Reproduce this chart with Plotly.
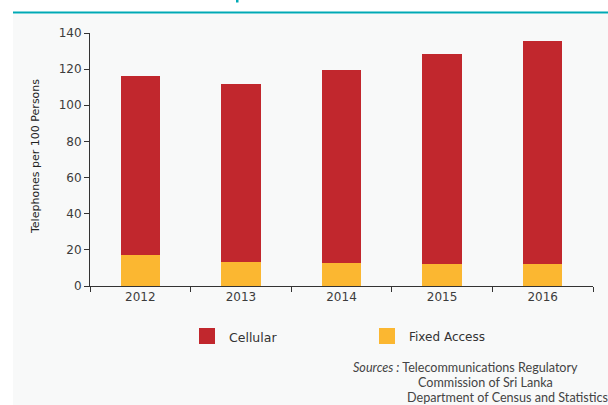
import plotly.graph_objects as go

years = ["2012", "2013", "2014", "2015", "2016"]
fixed_access = [17.0, 13.1, 12.9, 12.2, 12.0]
cellular = [99.2, 98.5, 106.5, 116.2, 123.6]
y_ticks = [0, 20, 40, 60, 80, 100, 120, 140]

W, H = 608, 405
RED = "#c1272d"
YEL = "#fbb731"
TEAL = "#00a9b5"
PANEL = "#f8f9f9"
FONT = "'DejaVu Sans', sans-serif"
SRC_FONT = "Lato, 'Open Sans', sans-serif"

fig = go.Figure()
fig.add_bar(x=years, y=fixed_access, name="Fixed Access", marker_color=YEL,
            marker_line_width=0, showlegend=False)
fig.add_bar(x=years, y=cellular, name="Cellular", marker_color=RED,
            marker_line_width=0, showlegend=False)

def px_x(x):
    return x / W

def px_y(y):
    return 1 - y / H

fig.update_layout(
    width=W, height=H,
    margin=dict(l=0, r=0, t=0, b=0, pad=0),
    paper_bgcolor="white",
    plot_bgcolor="rgba(0,0,0,0)",
    barmode="stack",
    bargap=0.61,
    font=dict(family=FONT, size=12, color="#333333"),
    xaxis=dict(
        domain=[px_x(90), px_x(593)],
        showline=True, linecolor="#333333", linewidth=1,
        ticks="outside", ticklen=5, tickcolor="#333333",
        tickson="boundaries", showgrid=False, automargin=False,
        tickfont=dict(size=12, color="#3c3c3c"),
    ),
    yaxis=dict(
        domain=[px_y(286), px_y(33)],
        range=[0, 140], tickvals=y_ticks,
        showline=True, linecolor="#333333", linewidth=1,
        ticks="outside", ticklen=5, tickcolor="#333333",
        showgrid=False, zeroline=False, automargin=False,
        tickfont=dict(size=12, color="#3c3c3c"),
    ),
    shapes=[
        dict(type="rect", xref="paper", yref="paper",
             x0=px_x(13), x1=1, y0=0, y1=px_y(14),
             fillcolor=PANEL, line_width=0, layer="below"),
        dict(type="line", xref="paper", yref="paper",
             x0=px_x(13), x1=1, y0=px_y(12.5), y1=px_y(12.5),
             line=dict(color=TEAL, width=2)),
        dict(type="rect", xref="paper", yref="paper",
             x0=px_x(236), x1=px_x(238.5), y0=px_y(2.5), y1=1,
             fillcolor=TEAL, line_width=0),
        dict(type="rect", xref="paper", yref="paper",
             x0=px_x(199), x1=px_x(215), y0=px_y(344), y1=px_y(328),
             fillcolor=RED, line_width=0),
        dict(type="rect", xref="paper", yref="paper",
             x0=px_x(379), x1=px_x(395), y0=px_y(344), y1=px_y(328),
             fillcolor=YEL, line_width=0),
    ],
    annotations=[
        dict(text="Telephones per 100 Persons", textangle=-90,
             xref="paper", yref="paper", x=px_x(35), y=px_y(157),
             xanchor="center", yanchor="middle", showarrow=False,
             font=dict(size=11, color="#222222", family=FONT)),
        dict(text="Cellular", xref="paper", yref="paper",
             x=px_x(227), y=px_y(337), xanchor="left", yanchor="middle",
             showarrow=False, font=dict(size=12.5, color="#333333")),
        dict(text="Fixed Access", xref="paper", yref="paper",
             x=px_x(407), y=px_y(337), xanchor="left", yanchor="middle",
             showarrow=False, font=dict(size=12, color="#333333")),
        dict(text="<i>Sources :</i> Telecommunications Regulatory", xref="paper", yref="paper",
             x=px_x(351), y=px_y(367), xanchor="left", yanchor="middle",
             showarrow=False, font=dict(size=12.6, color="#444444", family=SRC_FONT)),
        dict(text="Commission of Sri Lanka", xref="paper", yref="paper",
             x=px_x(416), y=px_y(382), xanchor="left", yanchor="middle",
             showarrow=False, font=dict(size=12.6, color="#444444", family=SRC_FONT)),
        dict(text="Department of Census and Statistics", xref="paper", yref="paper",
             x=px_x(405), y=px_y(397), xanchor="left", yanchor="middle",
             showarrow=False, font=dict(size=12.6, color="#444444", family=SRC_FONT)),
    ],
)

fig.write_html("out.html", post_script="document.body.style.margin='0';")
